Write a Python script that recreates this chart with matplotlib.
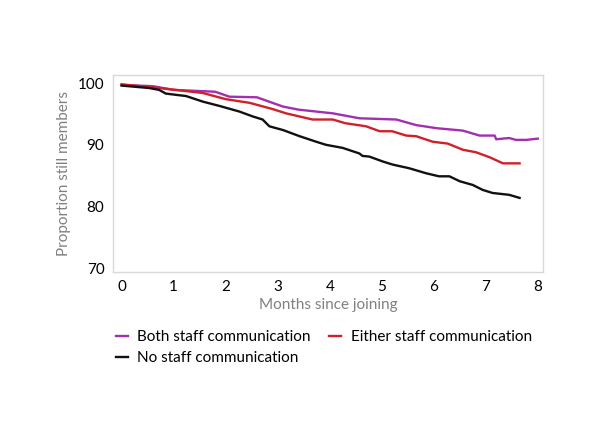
import numpy as np
from matplotlib import pyplot as plt

# Values (months since joining, % still members)
both_x = [0, 0.6, 1.0, 1.8, 2.07, 2.6, 2.9, 3.1, 3.4, 4.06, 4.57, 5.28, 5.66, 6.05,
          6.56, 6.88, 7.17, 7.2, 7.45, 7.58, 7.78, 8.0]
both_y = [99.7, 99.5, 98.9, 98.6, 97.8, 97.7, 96.8, 96.2, 95.7, 95.1, 94.3, 94.1, 93.2,
          92.7, 92.3, 91.5, 91.5, 90.9, 91.1, 90.8, 90.8, 91.0]

either_x = [0, 0.72, 1.56, 2.0, 2.46, 2.9, 3.16, 3.67, 4.06, 4.3, 4.7, 4.96, 5.2,
            5.47, 5.66, 5.98, 6.27, 6.56, 6.81, 7.07, 7.33, 7.65]
either_y = [99.8, 99.2, 98.4, 97.4, 96.8, 95.8, 95.1, 94.1, 94.1, 93.5, 93.0, 92.2,
            92.2, 91.5, 91.4, 90.5, 90.2, 89.2, 88.8, 88.0, 87.0, 87.0]

none_x = [0, 0.53, 0.72, 0.85, 1.24, 1.56, 1.88, 2.26, 2.52, 2.71, 2.84, 3.1, 3.42,
          3.74, 3.93, 4.25, 4.57, 4.63, 4.76, 5.02, 5.21, 5.53, 5.85, 6.1, 6.3, 6.5,
          6.75, 6.94, 7.13, 7.45, 7.65]
none_y = [99.6, 99.2, 98.9, 98.3, 97.9, 97.0, 96.3, 95.4, 94.6, 94.1, 93.0, 92.4,
          91.4, 90.5, 90.0, 89.5, 88.6, 88.2, 88.1, 87.3, 86.8, 86.2, 85.4, 84.9,
          84.9, 84.1, 83.5, 82.7, 82.2, 81.9, 81.4]

labels = ['Both staff communication', 'Either staff communication', 'No staff communication']
colors = ['#a22fb0', '#d0202a', '#111111']

plt.rcParams['font.family'] = ['Lato', 'DejaVu Sans']

fig = plt.figure(figsize=(6, 4.29), dpi=100)
ax = fig.add_axes([0.188, 0.366, 0.717, 0.459])

l1, = ax.plot(both_x, both_y, color=colors[0], lw=1.7, label=labels[0])
l2, = ax.plot(either_x, either_y, color=colors[1], lw=1.7, label=labels[1])
l3, = ax.plot(none_x, none_y, color=colors[2], lw=1.7, label=labels[2])

ax.set_xlim(-0.17, 8.1)
ax.set_ylim(69.4, 101.3)
ax.set_xticks(range(0, 9))
ax.set_yticks([70, 80, 90, 100])
ax.tick_params(length=0, labelsize=11, pad=6)
for s in ax.spines.values():
    s.set_color('#d9d9d9')
    s.set_linewidth(1)

ax.set_ylabel('Proportion still members', color='#808080', fontsize=11, labelpad=5)
ax.set_xlabel('Months since joining', color='#808080', fontsize=11, labelpad=3)

# row-major order: Both, Either on the first row, No on the second
fig.legend([l1, l3, l2], [labels[0], labels[2], labels[1]],
           loc='upper left', bbox_to_anchor=(0.183, 0.244), ncol=2, frameon=False,
           handlelength=0.8, handletextpad=0.6, columnspacing=1.2, labelspacing=0.45,
           fontsize=11, borderaxespad=0)

fig.savefig('out.png', dpi=100)
